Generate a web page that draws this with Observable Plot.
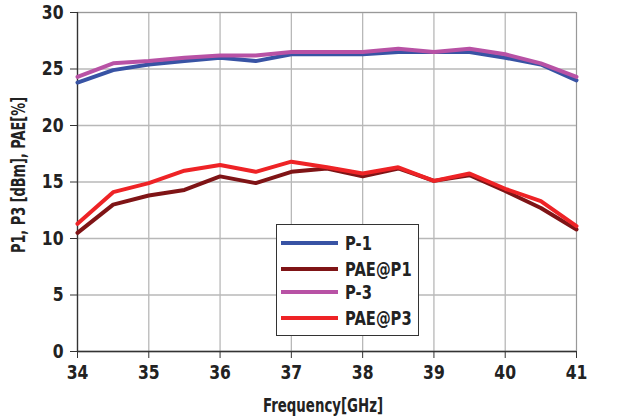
<!DOCTYPE html>
<html>
<head>
<meta charset="utf-8">
<script src="https://cdn.jsdelivr.net/npm/d3@7"></script>
<script src="https://cdn.jsdelivr.net/npm/@observablehq/plot@0.6"></script>
<style>
  html, body { margin: 0; padding: 0; background: #fff; }
  #wrap { position: relative; width: 620px; height: 418px; font-family: "DejaVu Sans", sans-serif; font-weight: bold; color: #222; }
  #legend { position: absolute; left: 276px; top: 224px; width: 143px; height: 112px; border: 1.5px solid #333; background: #fff; box-sizing: border-box; }
  #legend .row { position: absolute; left: 4px; height: 24px; display: flex; align-items: center; font-size: 20px; white-space: nowrap; }
  #legend .sw { width: 57px; height: 4px; margin-right: 7px; flex: none; }
  #legend .lbl { display: inline-block; transform-origin: left center; }
  .axlabel { position: absolute; font-size: 20px; line-height: 1; white-space: nowrap; }
  #xlabel { left: 323px; top: 405px; }
  #ylabel { left: 18px; top: 175px; }
</style>
</head>
<body>
<div id="wrap"></div>
<script>
const freq = [34, 34.5, 35, 35.5, 36, 36.5, 37, 37.5, 38, 38.5, 39, 39.5, 40, 40.5, 41];
const p1    = [23.8, 24.9, 25.4, 25.7, 26.0, 25.7, 26.3, 26.3, 26.3, 26.5, 26.5, 26.5, 26.0, 25.4, 24.0];
const paeP1 = [10.5, 13.0, 13.8, 14.3, 15.5, 14.9, 15.9, 16.2, 15.5, 16.2, 15.1, 15.6, 14.2, 12.7, 10.8];
const p3    = [24.3, 25.5, 25.7, 26.0, 26.2, 26.2, 26.5, 26.5, 26.5, 26.8, 26.5, 26.8, 26.3, 25.5, 24.3];
const paeP3 = [11.3, 14.1, 14.9, 16.0, 16.5, 15.9, 16.8, 16.3, 15.75, 16.3, 15.1, 15.75, 14.4, 13.3, 11.1];
const seriesNames = ["P-1", "PAE@P1", "P-3", "PAE@P3"];
const seriesColors = ["#3853a4", "#7f1416", "#b852a5", "#ee2326"];
const xTicks = [34, 35, 36, 37, 38, 39, 40, 41];
const yTicks = [0, 5, 10, 15, 20, 25, 30];
const xTitle = "Frequency[GHz]";
const yTitle = "P1, P3 [dBm], PAE[%]";

const seriesValues = [p1, paeP1, p3, paeP3];
const data = [];
seriesNames.forEach((name, i) => {
  freq.forEach((f, j) => data.push({ series: name, freq: f, value: seriesValues[i][j] }));
});

const chart = Plot.plot({
  width: 620,
  height: 418,
  marginLeft: 77,
  marginRight: 44,
  marginTop: 12,
  marginBottom: 67,
  style: { fontFamily: '"DejaVu Sans", sans-serif', fontWeight: "bold", fontSize: "19px", color: "#222", background: "#fff" },
  x: { domain: [34, 41] },
  y: { domain: [0, 30] },
  color: { domain: seriesNames, range: seriesColors },
  marks: [
    Plot.gridX(xTicks, { stroke: "#b8b8b8", strokeOpacity: 1, strokeWidth: 1.3 }),
    Plot.gridY(yTicks, { stroke: "#b8b8b8", strokeOpacity: 1, strokeWidth: 1.3 }),
    Plot.frame({ stroke: "#999", strokeWidth: 1 }),
    Plot.axisX(xTicks, { tickSize: 7, tickPadding: 6, stroke: "#333", label: null, fontSize: 20 }),
    Plot.axisY(yTicks, { tickSize: 7, tickPadding: 7, stroke: "#333", label: null, fontSize: 20 }),
    Plot.ruleX([34], { stroke: "#333", strokeWidth: 1.3 }),
    Plot.ruleY([0], { stroke: "#333", strokeWidth: 1.3 }),
    Plot.line(data, { x: "freq", y: "value", z: "series", stroke: "series", strokeWidth: 4, strokeLinejoin: "miter" })
  ]
});

// condense tick labels horizontally to mimic the narrow bold face of the original
chart.querySelectorAll("text").forEach((t) => {
  const tr = t.getAttribute("transform") || "";
  t.setAttribute("transform", (tr + " scale(0.78,1)").trim());
});

const wrap = document.getElementById("wrap");
wrap.appendChild(chart);

const xl = document.createElement("div");
xl.className = "axlabel"; xl.id = "xlabel"; xl.textContent = xTitle;
wrap.appendChild(xl);
const yl = document.createElement("div");
yl.className = "axlabel"; yl.id = "ylabel"; yl.textContent = yTitle;
wrap.appendChild(yl);
const sx = 120 / xl.offsetWidth;
const sy = 156 / yl.offsetWidth;
xl.style.transform = `translate(-50%, -50%) scaleX(${sx})`;
yl.style.transform = `translate(-50%, -50%) rotate(-90deg) scaleX(${sy})`;

const legend = document.createElement("div");
legend.id = "legend";
wrap.appendChild(legend);
const rowTops = [6, 32, 55, 81];
const lbls = [];
seriesNames.forEach((name, i) => {
  const row = document.createElement("div");
  row.className = "row";
  row.style.top = rowTops[i] + "px";
  const sw = document.createElement("span");
  sw.className = "sw";
  sw.style.background = seriesColors[i];
  const t = document.createElement("span");
  t.className = "lbl";
  t.textContent = name;
  row.appendChild(sw);
  row.appendChild(t);
  legend.appendChild(row);
  lbls.push(t);
});
const sl = 67 / lbls[1].offsetWidth;
lbls.forEach((t) => { t.style.transform = `scaleX(${sl})`; });
</script>
</body>
</html>
